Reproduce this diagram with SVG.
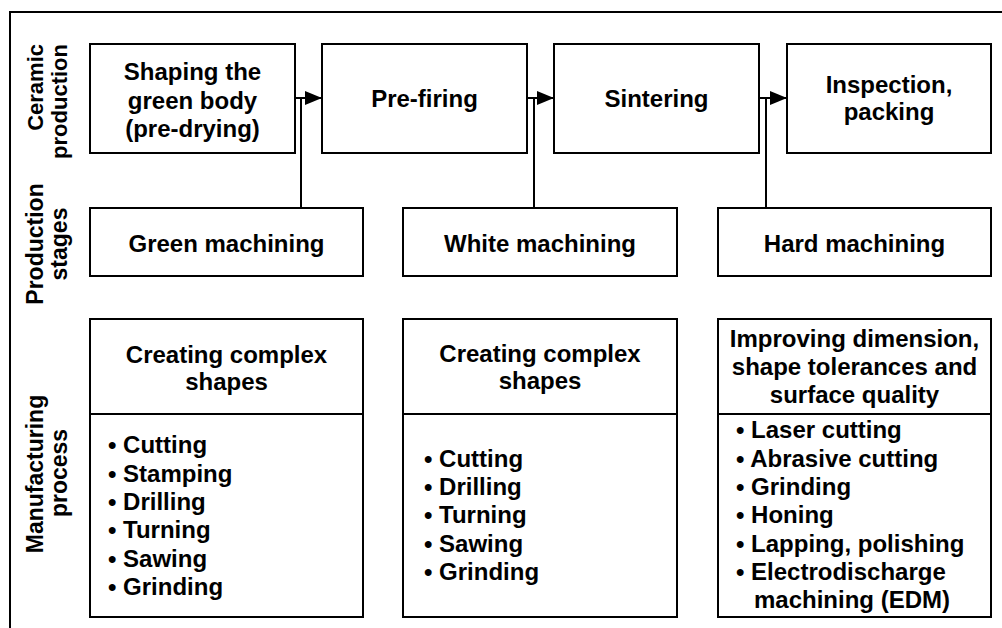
<svg xmlns="http://www.w3.org/2000/svg" width="1002" height="628" viewBox="0 0 1002 628">
<style>
.box{fill:#fff;stroke:#000;stroke-width:2}
.t{font-family:"Liberation Sans",Arial,sans-serif;font-weight:bold;font-size:24px;fill:#000}
.s{font-size:23px}
.c{text-anchor:middle}
.e{text-anchor:end}
.ln{stroke:#000;stroke-width:2;fill:none}
</style>
<defs>
<marker id="ah" markerWidth="17" markerHeight="14" refX="17" refY="7" orient="auto" markerUnits="userSpaceOnUse">
<path d="M0,0 L17,7 L0,14 Z" fill="#000"/>
</marker>
</defs>
<rect width="1002" height="628" fill="#fff"/>
<g id="frame">
<path class="ln" d="M10,628 L10,12 L1002,12" stroke-width="2.5"/>
</g>
<g id="side-labels">
<text class="t e" style="font-size:22px" transform="translate(43,44) rotate(-90)">Ceramic</text>
<text class="t e" style="font-size:22px" transform="translate(67,44) rotate(-90)">production</text>
<text class="t s c" transform="translate(43,244) rotate(-90)">Production</text>
<text class="t s c" transform="translate(67,244) rotate(-90)">stages</text>
<text class="t s c" transform="translate(43,474) rotate(-90)">Manufacturing</text>
<text class="t s c" transform="translate(67,473) rotate(-90)">process</text>
</g>
<g id="connectors">
<line class="ln" x1="295" y1="98" x2="322" y2="98" marker-end="url(#ah)"/>
<line class="ln" x1="527" y1="98" x2="554" y2="98" marker-end="url(#ah)"/>
<line class="ln" x1="759" y1="98" x2="787" y2="98" marker-end="url(#ah)"/>
<line class="ln" x1="301" y1="98" x2="301" y2="208"/>
<line class="ln" x1="534" y1="98" x2="534" y2="208"/>
<line class="ln" x1="766" y1="98" x2="766" y2="208"/>
</g>
<g id="shaping">
<rect class="box" x="90" y="44" width="205" height="109"/>
<text class="t c" x="192.5" y="80">Shaping the</text>
<text class="t c" x="192.5" y="109">green body</text>
<text class="t c" x="192.5" y="137">(pre-drying)</text>
</g>
<g id="prefiring">
<rect class="box" x="322" y="44" width="205" height="109"/>
<text class="t c" x="424.5" y="107">Pre-firing</text>
</g>
<g id="sintering">
<rect class="box" x="554" y="44" width="205" height="109"/>
<text class="t c" x="656.5" y="107">Sintering</text>
</g>
<g id="inspection">
<rect class="box" x="787" y="44" width="204" height="109"/>
<text class="t c" x="889" y="93">Inspection,</text>
<text class="t c" x="889" y="120">packing</text>
</g>
<g id="green-machining">
<rect class="box" x="90" y="208" width="273" height="68"/>
<text class="t c" x="226.5" y="252">Green machining</text>
</g>
<g id="white-machining">
<rect class="box" x="403" y="208" width="274" height="68"/>
<text class="t c" x="540" y="252">White machining</text>
</g>
<g id="hard-machining">
<rect class="box" x="718" y="208" width="273" height="68"/>
<text class="t c" x="854.5" y="252">Hard machining</text>
</g>
<g id="process-green">
<rect class="box" x="90" y="319" width="273" height="298"/>
<line class="ln" x1="90" y1="414" x2="363" y2="414"/>
<text class="t c" x="226.5" y="363">Creating complex</text>
<text class="t c" x="226.5" y="390">shapes</text>
<text class="t" x="108" y="453">• Cutting</text>
<text class="t" x="108" y="482">• Stamping</text>
<text class="t" x="108" y="510">• Drilling</text>
<text class="t" x="108" y="538">• Turning</text>
<text class="t" x="108" y="567">• Sawing</text>
<text class="t" x="108" y="595">• Grinding</text>
</g>
<g id="process-white">
<rect class="box" x="403" y="319" width="274" height="298"/>
<line class="ln" x1="403" y1="414" x2="677" y2="414"/>
<text class="t c" x="540" y="362">Creating complex</text>
<text class="t c" x="540" y="389">shapes</text>
<text class="t" x="424" y="467">• Cutting</text>
<text class="t" x="424" y="495">• Drilling</text>
<text class="t" x="424" y="523">• Turning</text>
<text class="t" x="424" y="552">• Sawing</text>
<text class="t" x="424" y="580">• Grinding</text>
</g>
<g id="process-hard">
<rect class="box" x="718" y="319" width="273" height="298"/>
<line class="ln" x1="718" y1="414" x2="991" y2="414"/>
<text class="t c" x="854.5" y="347">Improving dimension,</text>
<text class="t c" x="854.5" y="375">shape tolerances and</text>
<text class="t c" x="854.5" y="403">surface quality</text>
<text class="t" x="736" y="438">• Laser cutting</text>
<text class="t" x="736" y="467">• Abrasive cutting</text>
<text class="t" x="736" y="495">• Grinding</text>
<text class="t" x="736" y="523">• Honing</text>
<text class="t" x="736" y="552">• Lapping, polishing</text>
<text class="t" x="736" y="580">• Electrodischarge</text>
<text class="t" x="754" y="608">machining (EDM)</text>
</g>
</svg>
